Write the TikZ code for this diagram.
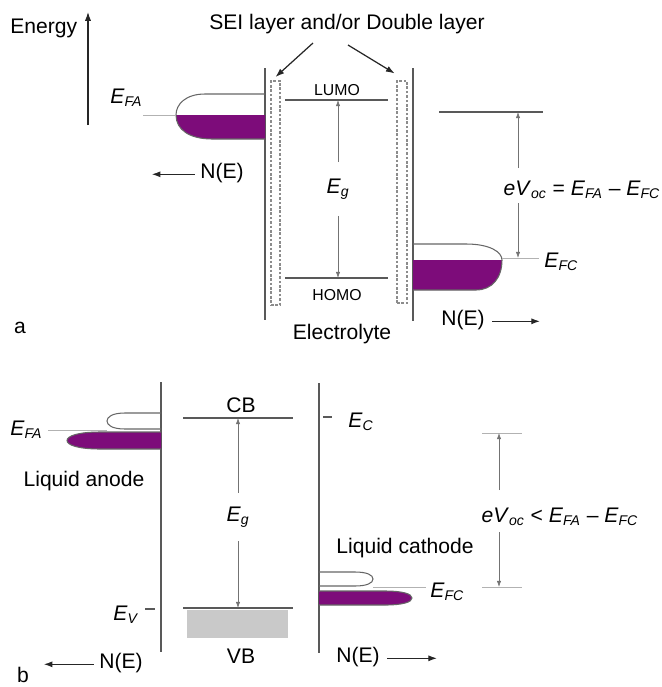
\documentclass[tikz,border=0pt]{standalone}
\usepackage{fontspec}
\setmainfont{Liberation Sans}
\usetikzlibrary{arrows.meta}
\definecolor{dosfill}{HTML}{7D0C7A}
\definecolor{vbgray}{HTML}{C9C9C9}
\newcommand{\lvl}[2]{\textit{#1}\textsubscript{\textit{#2}}}

\begin{document}
\begin{tikzpicture}[
        x=0.02cm, y=-0.02cm,
        font=\fontsize{12}{14}\selectfont,
        txt/.style={inner sep=0pt},
        small/.style={inner sep=0pt, font=\fontsize{9}{11}\selectfont},
        gaplabel/.style={inner sep=0pt, minimum height=#1},
        electrode/.style={draw=black!65, line width=0.9pt},
        level/.style={draw=black!65, line width=0.8pt},
        guide/.style={draw=black!30, line width=0.5pt},
        layer/.style={draw=black!45, line width=0.6pt, dash pattern=on 1.5pt off 1pt, inner sep=0pt},
        dos/.style={draw=black!60, line width=0.6pt},
        arrow/.style={-{Latex[length=5pt,width=3.5pt]}, line width=0.7pt, black!85},
        measure/.style={-{Latex[length=3.5pt,width=2.5pt]}, line width=0.4pt, black!55}
    ]
    \useasboundingbox (0,0) rectangle (662,687);

    % ---- panel a ----
    \node (energy) [txt, anchor=base west] at (10,33) {Energy};
    \coordinate (enBot) at (88,125);
    \coordinate (enTop) at (88,12);
    \draw [arrow, line width=0.6pt] (enBot) -- (enTop);

    \node (sei) [txt, anchor=base] at (347,29) {SEI layer and/or Double layer};
    \node (layerL) [layer, minimum width=0.18cm, minimum height=4.48cm] at (275.5,193) {};
    \node (layerR) [layer, minimum width=0.2cm, minimum height=4.44cm] at (402,192) {};
    \coordinate (seiL) at (313,43);
    \coordinate (seiR) at (348,45);
    \draw [arrow] (seiL) -- ([yshift=2pt]layerL.north);
    \draw [arrow] (seiR) -- ([xshift=-1pt,yshift=4pt]layerR.north west);

    \draw [electrode] (265,68) -- (265,320);
    \draw [electrode] (413,68) -- (413,321);

    \draw [level] (285,100) coordinate (lumoL) -- (388,100);
    \draw [level] (285,278) coordinate (homoL) -- (388,278);
    \node (lumo) [small, anchor=base] at (337,95) {LUMO};
    \node (homo) [small, anchor=base] at (337,300) {HOMO};
    \node (ega) [gaplabel=1.06cm] at (338,189) {\lvl{E}{g}};
    \draw [measure] (ega.north) -- (ega.north |- lumoL);
    \draw [measure] (ega.south) -- (ega.south |- homoL);
    \node (electrolyte) [txt, anchor=base] at (342,339) {Electrolyte};

    % anode DOS
    \fill [dosfill] (176,115) -- (265,115) -- (265,139) -- (212,139)
        .. controls (190,139) and (176,130) .. (176,115);
    \draw [dos] (265,94) -- (205,94) .. controls (186,94) and (176,104) .. (176,115)
        .. controls (176,130) and (190,139) .. (212,139) -- (265,139);
    \node (efaA) [txt, anchor=base west] at (110,103) {\lvl{E}{FA}};
    \draw [guide] (143,115) -- (176,115);
    \node (neA) [txt, anchor=base] at (222,178) {N(E)};
    \draw [arrow] ([xshift=-3pt,yshift=-1pt]neA.west) -- ++(-43,0);

    % cathode DOS
    \fill [dosfill] (413,260) -- (502,260) .. controls (502,278) and (492,290) .. (476,290)
        -- (413,290) -- cycle;
    \draw [dos] (413,244) -- (466,244) .. controls (490,244) and (502,252) .. (502,260)
        .. controls (502,278) and (492,290) .. (476,290) -- (413,290);
    \draw [guide] (502,258) -- (539,258);
    \node (efcA) [txt, anchor=base west] at (544,267) {\lvl{E}{FC}};
    \node (neB) [txt, anchor=base] at (463,325) {N(E)};
    \draw [arrow] ([xshift=4pt,yshift=-1pt]neB.east) -- ++(48,0);

    \draw [level] (439,112) coordinate (fermiA) -- (543,112);
    \node (vocA) [txt, anchor=base] at (582,195) {\lvl{eV}{oc} = \lvl{E}{FA} -- \lvl{E}{FC}};
    \coordinate (vocAtop) at (518,168);
    \coordinate (vocAbot) at (518,203);
    \draw [measure] (vocAtop) -- (vocAtop |- fermiA);
    \draw [measure] (vocAbot) -- (518,258);

    \node (lblA) [txt, anchor=base] at (20,333) {a};

    % ---- panel b ----
    \draw [electrode] (161,382) -- (161,652);
    \draw [electrode] (319,383) -- (319,653);

    \draw [level] (183,418) coordinate (cbL) -- (293,418);
    \fill [vbgray] (187,610) rectangle (288,638);
    \draw [level] (183,608) coordinate (vbL) -- (293,608);
    \node (cb) [txt, anchor=base] at (241,412) {CB};
    \node (vb) [txt, anchor=base] at (241,663) {VB};
    \node (egb) [gaplabel=0.96cm] at (238,517) {\lvl{E}{g}};
    \draw [measure] (egb.north) -- (egb.north |- cbL);
    \draw [measure] (egb.south) -- (egb.south |- vbL);

    \node (ev) [txt, anchor=base west] at (113,620) {\lvl{E}{V}};
    \draw [level, line width=0.6pt] (145,609) -- (155,609);
    \node (ec) [txt, anchor=base west] at (348,427) {\lvl{E}{C}};
    \draw [level, line width=0.6pt] (323,417) -- (332,417);

    % liquid anode DOS
    \fill [dosfill] (161,432) -- (100,432) .. controls (78,432) and (67,436) .. (67,440.5)
        .. controls (67,445) and (78,449) .. (100,449) -- (161,449) -- cycle;
    \draw [dos] (161,432) -- (100,432) .. controls (78,432) and (67,436) .. (67,440.5)
        .. controls (67,445) and (78,449) .. (100,449) -- (161,449);
    \draw [dos] (161,413) -- (125,413) .. controls (112,413) and (107,417) .. (107,421)
        .. controls (107,425) and (112,429) .. (125,429) -- (161,429);
    \node (efaB) [txt, anchor=base west] at (10,435) {\lvl{E}{FA}};
    \draw [guide] (48,430) -- (107,430);
    \node (anode) [txt, anchor=base] at (84,486) {Liquid anode};
    \node (neC) [txt, anchor=base] at (121,668) {N(E)};
    \draw [arrow] ([xshift=-3pt,yshift=-1pt]neC.west) -- ++(-50,0);

    % liquid cathode DOS
    \fill [dosfill] (319,591) -- (385,591) .. controls (403,591) and (412,594) .. (412,598)
        .. controls (412,602) and (403,605) .. (385,605) -- (319,605) -- cycle;
    \draw [dos] (319,591) -- (385,591) .. controls (403,591) and (412,594) .. (412,598)
        .. controls (412,602) and (403,605) .. (385,605) -- (319,605);
    \draw [dos] (319,572) -- (355,572) .. controls (367,572) and (373,575) .. (373,579)
        .. controls (373,583) and (367,586) .. (355,586) -- (319,586);
    \node (efcB) [txt, anchor=base west] at (430,597) {\lvl{E}{FC}};
    \draw [guide] (373,587) -- (426,587);
    \node (cathode) [txt, anchor=base] at (405,553) {Liquid cathode};
    \node (neD) [txt, anchor=base] at (358,662) {N(E)};
    \draw [arrow] ([xshift=4pt,yshift=-1pt]neD.east) -- ++(50,0);

    \draw [guide] (482,433) coordinate (fermiB) -- (522,433);
    \draw [guide] (482,587) coordinate (fermiC) -- (522,587);
    \node (vocB) [txt, anchor=base] at (560,522) {\lvl{eV}{oc} < \lvl{E}{FA} -- \lvl{E}{FC}};
    \coordinate (vocBtop) at (499,490);
    \coordinate (vocBbot) at (499,532);
    \draw [measure] (vocBtop) -- (vocBtop |- fermiB);
    \draw [measure] (vocBbot) -- (vocBbot |- fermiC);

    \node (lblB) [txt, anchor=base] at (23,682) {b};

    \end{tikzpicture}
\end{document}
